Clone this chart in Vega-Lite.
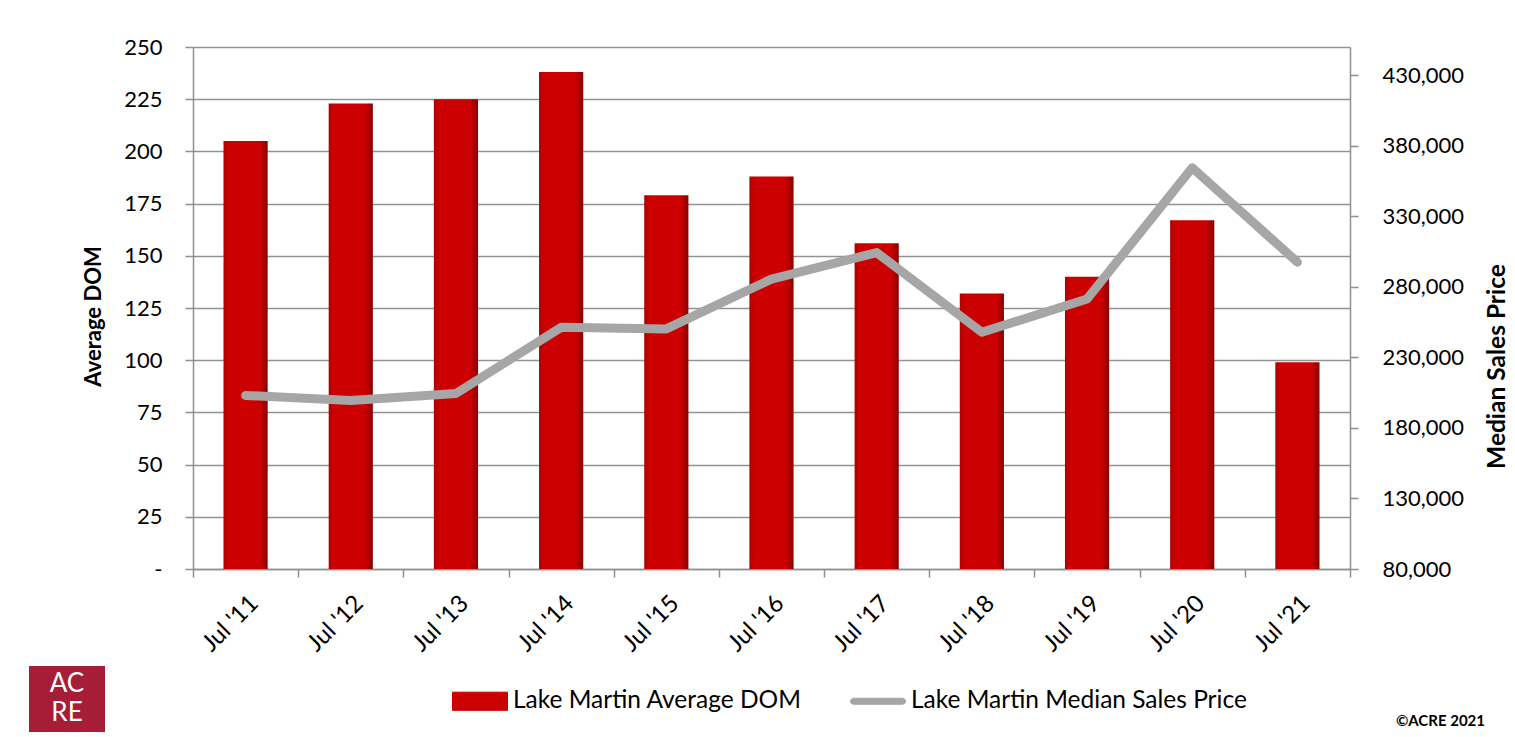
{
  "$schema": "https://vega.github.io/schema/vega-lite/v6.json",
  "width": 1157,
  "height": 522,
  "autosize": {"type": "none"},
  "padding": {"left": 193, "top": 47, "right": 165, "bottom": 168},
  "background": "#ffffff",
  "config": {
    "view": {"stroke": null},
    "font": "Lato",
    "axis": {
      "labelFont": "Lato",
      "labelFontSize": 22,
      "labelColor": "#000000",
      "titleFont": "Lato",
      "titleFontSize": 22,
      "titleFontWeight": "bold",
      "titleColor": "#000000",
      "domainColor": "#8f8f8f",
      "domainWidth": 1.5,
      "tickColor": "#8f8f8f",
      "tickWidth": 1.5,
      "tickSize": 8,
      "gridColor": "#929292",
      "gridWidth": 1.5
    }
  },
  "data": {
    "values": [
      {"period": "Jul '11", "dom": 205, "price": 203000},
      {"period": "Jul '12", "dom": 223, "price": 199500},
      {"period": "Jul '13", "dom": 225, "price": 204400},
      {"period": "Jul '14", "dom": 238, "price": 251300},
      {"period": "Jul '15", "dom": 179, "price": 250200},
      {"period": "Jul '16", "dom": 188, "price": 285500},
      {"period": "Jul '17", "dom": 156, "price": 304300},
      {"period": "Jul '18", "dom": 132, "price": 247800},
      {"period": "Jul '19", "dom": 140, "price": 271400},
      {"period": "Jul '20", "dom": 167, "price": 364400},
      {"period": "Jul '21", "dom": 99, "price": 297500}
    ]
  },
  "title": {
    "text": "©ACRE 2021",
    "orient": "bottom",
    "anchor": "end",
    "frame": "group",
    "baseline": "top",
    "font": "Lato",
    "fontSize": 15,
    "fontWeight": "bold",
    "color": "#000000",
    "dx": 135,
    "offset": -18
  },
  "encoding": {
    "x": {
      "field": "period",
      "type": "nominal",
      "sort": null,
      "scale": {"paddingInner": 0, "paddingOuter": 0},
      "axis": {
        "title": null,
        "labelAngle": -45,
        "labelFontSize": 24,
        "labelPadding": 14,
        "tickBand": "extent",
        "grid": false
      }
    }
  },
  "layer": [
    {
      "mark": {
        "type": "bar",
        "width": {"band": 0.42},
        "color": {
          "gradient": "linear",
          "x1": 0, "y1": 0, "x2": 1, "y2": 0,
          "stops": [
            {"offset": 0, "color": "#b00000"},
            {"offset": 0.12, "color": "#cc0000"},
            {"offset": 0.82, "color": "#cc0000"},
            {"offset": 1, "color": "#8a0000"}
          ]
        }
      },
      "encoding": {
        "y": {
          "field": "dom",
          "type": "quantitative",
          "scale": {"domain": [0, 250], "nice": false},
          "axis": {
            "title": "Average DOM",
            "values": [0, 25, 50, 75, 100, 125, 150, 175, 200, 225, 250],
            "labelExpr": "datum.value === 0 ? '-' : datum.label",
            "labelPadding": 23,
            "titlePadding": 18,
            "titleY": 269,
            "grid": true
          }
        },
        "opacity": {
          "datum": "logo",
          "type": "ordinal",
          "scale": {"range": [1]},
          "legend": {
            "orient": "none",
            "legendX": -164,
            "legendY": 619,
            "title": ["AC", "RE"],
            "titleColor": "#ffffff",
            "titleFont": "Lato",
            "titleFontSize": 26,
            "titleFontWeight": "normal",
            "titleLineHeight": 29,
            "titleAnchor": "middle",
            "titleAlign": "center",
            "titlePadding": 0,
            "fillColor": "#a51d36",
            "padding": 5,
            "labelExpr": "''",
            "labelFontSize": 1,
            "labelOffset": 65,
            "symbolSize": 0,
            "symbolOpacity": 0,
            "symbolStrokeWidth": 0
          }
        }
      }
    },
    {
      "mark": {
        "type": "line",
        "strokeWidth": 9,
        "strokeCap": "round",
        "strokeJoin": "round"
      },
      "encoding": {
        "y": {
          "field": "price",
          "type": "quantitative",
          "scale": {"domain": [80000, 450000], "nice": false},
          "axis": {
            "orient": "right",
            "title": "Median Sales Price",
            "titleFontSize": 24.5,
            "values": [80000, 130000, 180000, 230000, 280000, 330000, 380000, 430000],
            "format": ",.0f",
            "labelPadding": 24,
            "titlePadding": 22,
            "titleAngle": 270,
            "titleBaseline": "top",
            "titleY": 319,
            "grid": false
          }
        },
        "color": {
          "datum": "Lake Martin Median Sales Price",
          "scale": {
            "domain": ["Lake Martin Average DOM", "Lake Martin Median Sales Price"],
            "range": ["#cc0000", "#a6a6a6"]
          },
          "legend": {
            "orient": "none",
            "legendX": 259,
            "legendY": 626,
            "direction": "horizontal",
            "title": null,
            "padding": 0,
            "labelFont": "Lato",
            "labelFontSize": 24.5,
            "labelColor": "#000000",
            "labelOffset": 5,
            "labelLimit": 500,
            "columnPadding": 46,
            "symbolSize": 3025,
            "encode": {
              "symbols": {
                "update": {
                  "shape": {"signal": "datum.value === 'Lake Martin Average DOM' ? 'M-1,-0.33H1V0.33H-1Z' : 'M-0.89,-0.11H0.89A0.11,0.11 0 0 1 0.89,0.11H-0.89A0.11,0.11 0 0 1 -0.89,-0.11Z'"},
                  "fill": {"signal": "datum.value === 'Lake Martin Average DOM' ? '#cc0000' : '#a6a6a6'"},
                  "stroke": {"signal": "datum.value === 'Lake Martin Average DOM' ? '#8a0000' : '#a6a6a6'"},
                  "strokeWidth": {"value": 1},
                  "opacity": {"value": 1},
                  "fillOpacity": {"value": 1}
                }
              }
            }
          }
        }
      }
    }
  ],
  "resolve": {"scale": {"y": "independent"}}
}
